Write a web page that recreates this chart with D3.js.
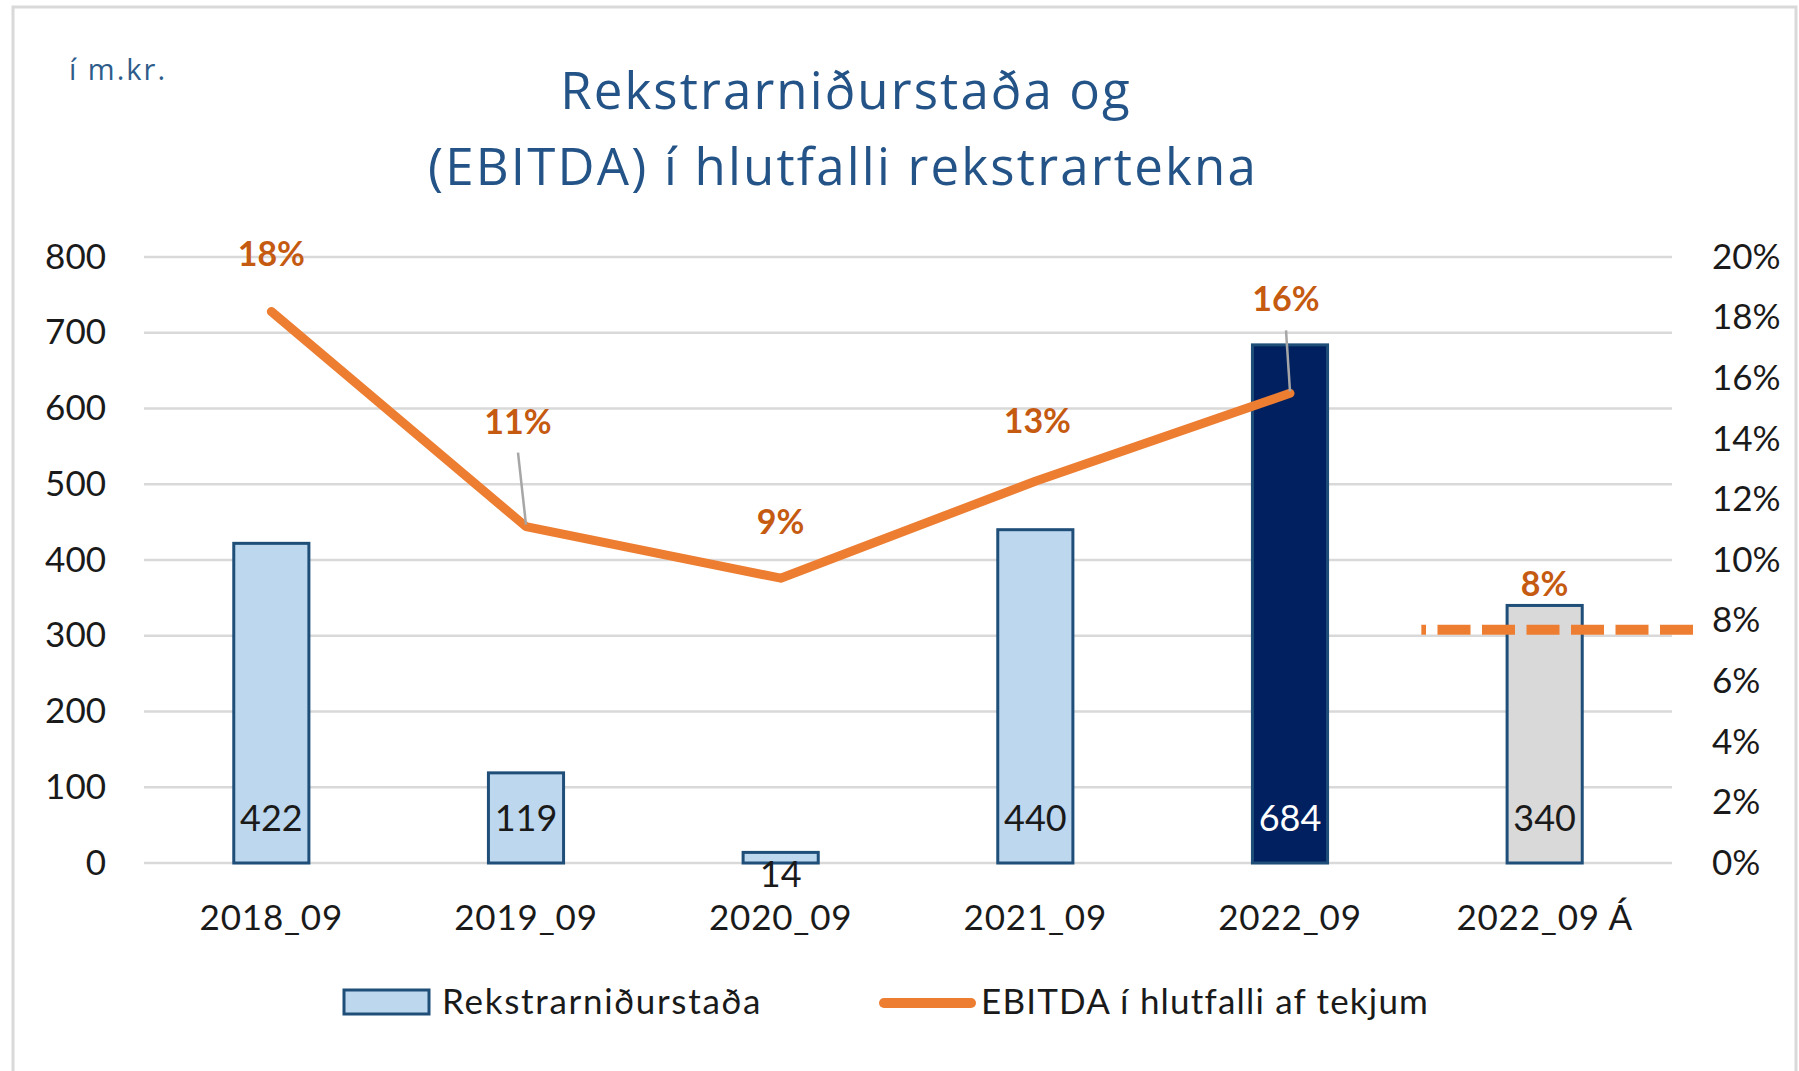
<!DOCTYPE html>
<html>
<head>
<meta charset="utf-8">
<script src="https://cdn.jsdelivr.net/npm/d3@7"></script>
<style>
  body { margin: 0; background: #fff; }
</style>
</head>
<body>
<div id="chart"></div>
<script>
// Data
var categories = ["2018_09", "2019_09", "2020_09", "2021_09", "2022_09", "2022_09 Á"];
var result = [422, 119, 14, 440, 684, 340];          // Rekstrarniðurstaða, m.kr.
var ebitdaPct = [0.182, 0.111, 0.094, 0.126, 0.155]; // EBITDA í hlutfalli af tekjum
var budgetPct = 0.077;                               // 2022_09 Á (dashed)
var budgetLabel = "8%";
var leftTicks = [0, 100, 200, 300, 400, 500, 600, 700, 800];
var rightTicks = [0, 0.02, 0.04, 0.06, 0.08, 0.10, 0.12, 0.14, 0.16, 0.18, 0.20];

var W = 1799, H = 1071;
var plot = { left: 144, right: 1672, top: 257, bottom: 863 };

var svg = d3.select("#chart")
  .append("svg")
    .attr("width", W)
    .attr("height", H)
    .attr("font-family", "Lato, 'Open Sans', sans-serif");

// chart frame
svg.append("rect")
  .attr("x", 13).attr("y", 7)
  .attr("width", W - 16).attr("height", H + 20)
  .attr("fill", "#fff")
  .attr("stroke", "#d9d9d9")
  .attr("stroke-width", 3);

// Scales
var x = d3.scaleBand()
  .domain(categories)
  .range([plot.left, plot.right])
  .paddingInner(0.705)
  .paddingOuter(0.3525);

var y = d3.scaleLinear()
  .domain([0, 800])
  .range([plot.bottom, plot.top]);

var y2 = d3.scaleLinear()
  .domain([0, 0.2])
  .range([plot.bottom, plot.top]);

var cx = function(i) { return x(categories[i]) + x.bandwidth() / 2; };

// Gridlines
svg.append("g")
  .selectAll("line")
  .data(leftTicks)
  .enter()
  .append("line")
    .attr("x1", plot.left)
    .attr("x2", plot.right)
    .attr("y1", function(d) { return y(d); })
    .attr("y2", function(d) { return y(d); })
    .attr("stroke", "#d9d9d9")
    .attr("stroke-width", 2.5);

// Left axis
var yAxis = svg.append("g")
  .attr("transform", "translate(" + (plot.left - 38) + ",0)")
  .call(d3.axisLeft(y).tickValues(leftTicks).tickSize(0).tickPadding(0));
yAxis.select(".domain").remove();
yAxis.selectAll("text")
  .attr("font-family", "Lato, sans-serif")
  .attr("font-size", "35px")
  .attr("fill", "#1a1a1a");

// Right axis
var y2Axis = svg.append("g")
  .attr("transform", "translate(" + (plot.right + 40) + ",0)")
  .call(d3.axisRight(y2).tickValues(rightTicks).tickSize(0).tickPadding(0)
    .tickFormat(d3.format(".0%")));
y2Axis.select(".domain").remove();
y2Axis.selectAll("text")
  .attr("font-family", "Lato, sans-serif")
  .attr("font-size", "35px")
  .attr("fill", "#1a1a1a");

// Bottom axis
var xAxis = svg.append("g")
  .attr("transform", "translate(0," + plot.bottom + ")")
  .call(d3.axisBottom(x).tickSize(0).tickPadding(42));
xAxis.select(".domain").remove();
xAxis.selectAll("text")
  .attr("font-family", "Lato, sans-serif")
  .attr("font-size", "35px")
  .attr("letter-spacing", "0.8px")
  .attr("fill", "#1a1a1a");

// Bars
var barFill = ["#bdd7ee", "#bdd7ee", "#bdd7ee", "#bdd7ee", "#002060", "#d9d9d9"];
svg.append("g")
  .selectAll("rect")
  .data(result)
  .enter()
  .append("rect")
    .attr("x", function(d, i) { return x(categories[i]); })
    .attr("y", function(d) { return y(d); })
    .attr("width", x.bandwidth())
    .attr("height", function(d) { return y(0) - y(d); })
    .attr("fill", function(d, i) { return barFill[i]; })
    .attr("stroke", "#1f4e79")
    .attr("stroke-width", 3);

// Bar labels (inside base)
svg.append("g")
  .selectAll("text")
  .data(result)
  .enter()
  .append("text")
    .attr("x", function(d, i) { return cx(i); })
    .attr("y", function(d) { return d < 50 ? y(0) + 24 : y(0) - 32; })
    .attr("text-anchor", "middle")
    .attr("font-size", "36px")
    .attr("fill", function(d, i) { return i === 4 ? "#ffffff" : "#1a1a1a"; })
    .text(function(d) { return d; });

// EBITDA line
var line = d3.line()
  .x(function(d, i) { return cx(i); })
  .y(function(d) { return y2(d); });

svg.append("path")
  .datum(ebitdaPct)
  .attr("d", line)
  .attr("fill", "none")
  .attr("stroke", "#ed7d31")
  .attr("stroke-width", 9)
  .attr("stroke-linejoin", "round")
  .attr("stroke-linecap", "round");

// Budget dashed segment (drawn right to left so it ends on a full dash)
var bx = x(categories[5]) - x.step() * x.paddingInner() / 2;
svg.append("line")
  .attr("x1", plot.right + 21)
  .attr("x2", bx + 4)
  .attr("y1", y2(budgetPct))
  .attr("y2", y2(budgetPct))
  .attr("stroke", "#ed7d31")
  .attr("stroke-width", 10)
  .attr("stroke-dasharray", "33 11.5");

// Line labels with offsets, leader lines where moved
var labelShift = [[0, -57], [-8, -105], [0, -56], [2, -60], [-4, -94]];
var labels = svg.append("g");
ebitdaPct.forEach(function(d, i) {
  var px = cx(i), py = y2(d);
  var lx = px + labelShift[i][0], ly = py + labelShift[i][1];
  if (labelShift[i][1] < -80) {
    labels.append("line")
      .attr("x1", lx).attr("y1", ly + 31)
      .attr("x2", px).attr("y2", py - 2)
      .attr("stroke", "#a6a6a6")
      .attr("stroke-width", 2.5);
  }
  labels.append("text")
    .attr("x", lx)
    .attr("y", ly)
    .attr("dy", "0.35em")
    .attr("text-anchor", "middle")
    .attr("font-size", "34px")
    .attr("font-weight", "bold")
    .attr("fill", "#c55a11")
    .text(d3.format(".0%")(d));
});
labels.append("text")
  .attr("x", cx(5))
  .attr("y", y2(budgetPct) - 46)
  .attr("dy", "0.35em")
  .attr("text-anchor", "middle")
  .attr("font-size", "34px")
  .attr("font-weight", "bold")
  .attr("fill", "#c55a11")
  .text(budgetLabel);

// Titles
svg.append("text")
  .attr("x", 69).attr("y", 80)
  .attr("font-family", "'Open Sans', sans-serif")
  .attr("font-size", "29px")
  .attr("letter-spacing", "2px")
  .attr("fill", "#2e5c8a")
  .text("í m.kr.");

svg.append("text")
  .attr("x", 846).attr("y", 109)
  .attr("text-anchor", "middle")
  .attr("font-family", "'Open Sans', sans-serif")
  .attr("font-size", "51px")
  .attr("letter-spacing", "2.1px")
  .attr("fill", "#245487")
  .text("Rekstrarniðurstaða og");

svg.append("text")
  .attr("x", 843).attr("y", 185)
  .attr("text-anchor", "middle")
  .attr("font-family", "'Open Sans', sans-serif")
  .attr("font-size", "51px")
  .attr("letter-spacing", "2.2px")
  .attr("fill", "#245487")
  .text("(EBITDA) í hlutfalli rekstrartekna");

// Legend
var legend = svg.append("g");
legend.append("rect")
  .attr("x", 344).attr("y", 990)
  .attr("width", 85).attr("height", 24)
  .attr("fill", "#bdd7ee")
  .attr("stroke", "#1f4e79")
  .attr("stroke-width", 3);
legend.append("text")
  .attr("x", 442).attr("y", 1002)
  .attr("dy", "0.35em")
  .attr("font-size", "35px")
  .attr("letter-spacing", "1.7px")
  .attr("fill", "#1a1a1a")
  .text("Rekstrarniðurstaða");
legend.append("line")
  .attr("x1", 884).attr("x2", 971)
  .attr("y1", 1003).attr("y2", 1003)
  .attr("stroke", "#ed7d31")
  .attr("stroke-width", 10)
  .attr("stroke-linecap", "round");
legend.append("text")
  .attr("x", 981).attr("y", 1002)
  .attr("dy", "0.35em")
  .attr("font-size", "35px")
  .attr("letter-spacing", "1.2px")
  .attr("fill", "#1a1a1a")
  .text("EBITDA í hlutfalli af tekjum");
</script>
</body>
</html>
